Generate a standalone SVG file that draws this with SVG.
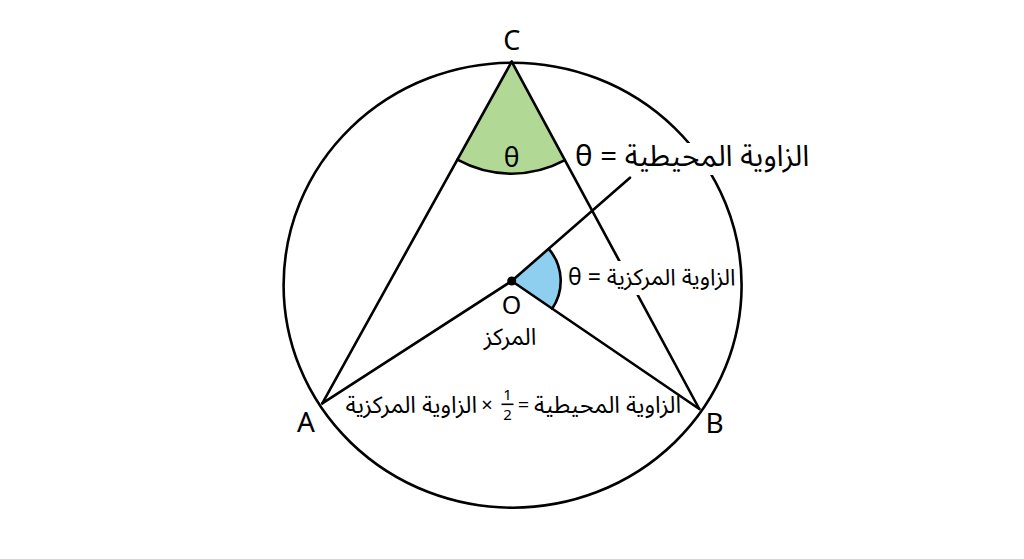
<svg xmlns="http://www.w3.org/2000/svg" width="1024" height="559" viewBox="0 0 1024 559">
<style>
.ln{stroke:#000;stroke-width:2.6;fill:none;stroke-linecap:round}
.t{font-family:"Noto Sans","Noto Sans Arabic","DejaVu Sans",sans-serif;fill:#000}
.bg{fill:#fff}
</style>
<rect width="1024" height="559" fill="#fff"/>
<g id="circle">
<ellipse class="ln" cx="512.6" cy="285.2" rx="229" ry="222.5"/>
</g>
<g id="sectors">
<path d="M511.7 61.7 L457.4 159.7 A112 112 0 0 0 564.9 160.2 Z" fill="#b2d896"/>
<path d="M457.4 159.7 A112 112 0 0 0 564.9 160.2" class="ln"/>
<path d="M511.7 281 L548.7 248.9 A49 49 0 0 1 552.1 308.7 Z" fill="#8ecff0"/>
<path d="M548.7 248.9 A49 49 0 0 1 552.1 308.7" class="ln"/>
</g>
<g id="connectors">
<line class="ln" x1="511.7" y1="61.7" x2="322.3" y2="403.3"/>
<line class="ln" x1="511.7" y1="61.7" x2="699.3" y2="409"/>
<line class="ln" x1="511.7" y1="281" x2="322.3" y2="403.3"/>
<line class="ln" x1="511.7" y1="281" x2="699.3" y2="409"/>
<line class="ln" x1="511.7" y1="281" x2="630" y2="177.7"/>
</g>
<g id="node-O">
<circle cx="511.7" cy="281" r="4.5" fill="#000"/>
<text class="t" x="511.5" y="314" font-size="25" text-anchor="middle">O</text>
<text class="t" x="510" y="345" font-size="23.5" text-anchor="middle">المركز</text>
</g>
<g id="node-C">
<text class="t" x="511.7" y="50" font-size="27" text-anchor="middle">C</text>
<text class="t" x="511.7" y="166.5" font-size="26.5" text-anchor="middle">θ</text>
</g>
<g id="node-A">
<text class="t" x="306" y="432" font-size="28" text-anchor="middle">A</text>
</g>
<g id="node-B">
<text class="t" x="714.5" y="433" font-size="28" text-anchor="middle">B</text>
</g>
<g id="label-inscribed">
<rect class="bg" x="575" y="143" width="236" height="32"/>
<text class="t" x="575" y="166" font-size="29.5">θ = الزاوية المحيطية</text>
</g>
<g id="label-central">
<rect class="bg" x="566" y="261" width="171" height="34"/>
<text class="t" x="568" y="285" font-size="23">θ = الزاوية المركزية</text>
</g>
<g id="label-relation">
<text class="t" x="477" y="413" font-size="23.5" text-anchor="end">الزاوية المركزية</text>
<text class="t" x="487" y="412" font-size="20" text-anchor="middle">×</text>
<text class="t" x="507.5" y="400" font-size="15" text-anchor="middle">1</text>
<line x1="501.5" y1="404.3" x2="513.5" y2="404.3" stroke="#000" stroke-width="1.6"/>
<text class="t" x="507.5" y="420" font-size="15" text-anchor="middle">2</text>
<text class="t" x="523.5" y="412" font-size="20" text-anchor="middle">=</text>
<text class="t" x="534" y="413" font-size="23.5">الزاوية المحيطية</text>
</g>
</svg>
